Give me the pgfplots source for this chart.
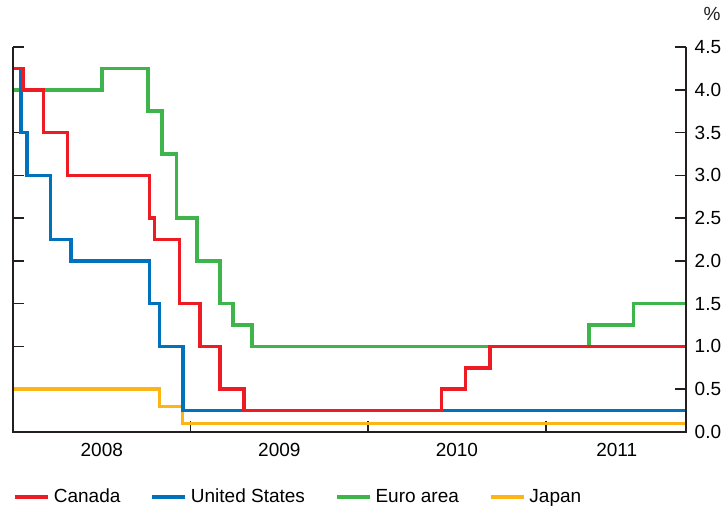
\documentclass[border=0pt]{standalone}
\usepackage{fontspec}
\setmainfont{Liberation Sans}
\usepackage{pgfplots}
\pgfplotsset{compat=1.18}
\definecolor{cRed}{HTML}{ED1C24}
\definecolor{cBlue}{HTML}{0072BC}
\definecolor{cGreen}{HTML}{3DB54A}
\definecolor{cOrange}{HTML}{FDB515}
\definecolor{axisc}{HTML}{231F20}
\begin{document}
\fontsize{9.5}{11.5}\selectfont
\begin{tikzpicture}
\path[use as bounding box] (-6.5pt,-38pt) rectangle (356.5pt,216pt);
\begin{axis}[
  scale only axis, width=336.5pt, height=192.5pt,
  xmin=2008, xmax=2011.79, ymin=0, ymax=4.5,
  clip mode=individual,
  axis line style={draw=none},
  xtick={2009,2010,2011}, xticklabels={},
  extra x ticks={2008.5,2009.5,2010.5,2011.4},
  extra x tick labels={2008,2009,2010,2011},
  extra x tick style={major tick length=0pt},
  xtick pos=bottom,
  ytick={0,0.5,...,4.5}, ytick pos=both, yticklabel pos=right,
  tick align=inside, major tick length=5.5pt,
  tick style={axisc, line width=0.8pt},
  yticklabel style={/pgf/number format/.cd, fixed, fixed zerofill, precision=1, /tikz/.cd, anchor=west, xshift=1pt},
  xticklabel style={yshift=-2pt},
  /pgf/number format/assume math mode=true,
  legend columns=4,
  legend style={at={(0,-0.169)}, anchor=west, draw=none, fill=none, inner sep=0pt,
    /tikz/every even column/.append style={column sep=13pt}},
  legend image code/.code={\draw[#1, line width=1.75pt] (0pt,0pt) -- (16.5pt,0pt);},
]
\addlegendimage{cRed}
\addlegendimage{cBlue}
\addlegendimage{cGreen}
\addlegendimage{cOrange}
\legend{Canada, United States, Euro area, Japan}

% Japan
\addplot[const plot, cOrange, line width=1.75pt, forget plot] coordinates {
(2008.000,0.50) (2008.826,0.30) (2008.955,0.10) (2011.790,0.10)};
% Euro area
\addplot[const plot, cGreen, line width=1.75pt, forget plot] coordinates {
(2008.000,4.00) (2008.500,4.25) (2008.760,3.75) (2008.840,3.25) (2008.920,2.50)
(2009.035,2.00) (2009.165,1.50) (2009.240,1.25) (2009.345,1.00) (2011.245,1.25)
(2011.495,1.50) (2011.790,1.50)};
% United States
\addplot[const plot, cBlue, line width=1.75pt, forget plot] coordinates {
(2008.000,4.25) (2008.045,3.50) (2008.079,3.00) (2008.210,2.25) (2008.328,2.00)
(2008.768,1.50) (2008.825,1.00) (2008.956,0.25) (2011.790,0.25)};
% Canada
\addplot[const plot, cRed, line width=1.75pt, forget plot] coordinates {
(2008.000,4.25) (2008.057,4.00) (2008.172,3.50) (2008.306,3.00) (2008.768,2.50)
(2008.797,2.25) (2008.937,1.50) (2009.052,1.00) (2009.167,0.50) (2009.301,0.25)
(2010.414,0.50) (2010.548,0.75) (2010.685,1.00) (2011.790,1.00)};

\draw[axisc, line width=1pt] (rel axis cs:0,1) -- (rel axis cs:0,0) -- (rel axis cs:1,0) -- (rel axis cs:1,1);
\node[axisc] at (rel axis cs:1,1) [xshift=13pt, yshift=16.5pt] {\%};
\end{axis}
\end{tikzpicture}
\end{document}
